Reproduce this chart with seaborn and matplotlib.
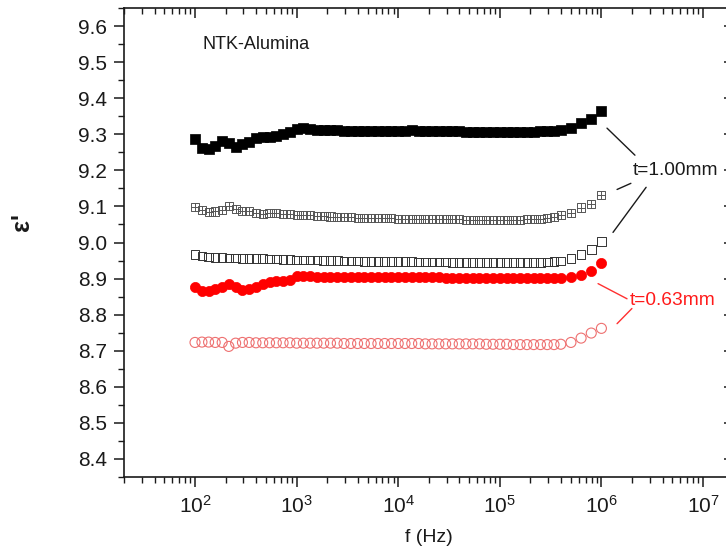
import matplotlib
matplotlib.use("Agg")
import matplotlib.pyplot as plt
from matplotlib.path import Path
from matplotlib.ticker import (LogLocator, MultipleLocator, NullFormatter,
                               LogFormatterMathtext, FormatStrFormatter)
import pandas as pd
import seaborn as sns

# Measurement frequencies (Hz)
FREQ_HZ = [
    100, 117, 136, 158, 185, 215, 251, 293, 341, 398, 464, 541, 631, 736, 858,
    1000, 1166, 1359, 1585, 1848, 2154, 2512, 2929, 3415, 3981, 4642, 5412, 6310, 7356, 8577,
    10000, 11660, 13590, 15850, 18480, 21540, 25120, 29290, 34150, 39810, 46420, 54120, 63100, 73560, 85770,
    100000, 116600, 135900, 158500, 184800, 215400, 251200, 292900, 341500, 398100,
    501200, 631000, 794300, 1000000,
]

# Relative permittivity, t = 1.00 mm samples
EPS_100_FILLED = [
    9.288, 9.262, 9.258, 9.268, 9.280, 9.275, 9.265, 9.272, 9.278, 9.290, 9.293, 9.292, 9.294, 9.300, 9.306,
    9.314, 9.316, 9.315, 9.313, 9.312, 9.311, 9.311, 9.310, 9.310, 9.310, 9.309, 9.310, 9.309, 9.309, 9.310,
    9.310, 9.310, 9.311, 9.310, 9.309, 9.309, 9.309, 9.308, 9.308, 9.308, 9.307, 9.307, 9.307, 9.306, 9.306,
    9.306, 9.306, 9.306, 9.306, 9.307, 9.307, 9.308, 9.309, 9.310, 9.312,
    9.317, 9.330, 9.341, 9.364,
]
EPS_100_CROSSED = [
    9.098, 9.090, 9.085, 9.086, 9.090, 9.102, 9.092, 9.088, 9.087, 9.083, 9.080, 9.082, 9.083, 9.080, 9.078,
    9.077, 9.076, 9.075, 9.074, 9.073, 9.072, 9.071, 9.071, 9.070, 9.069, 9.069, 9.068, 9.068, 9.067, 9.067,
    9.066, 9.066, 9.066, 9.065, 9.065, 9.065, 9.064, 9.064, 9.064, 9.064, 9.063, 9.063, 9.063, 9.063, 9.063,
    9.063, 9.063, 9.063, 9.063, 9.064, 9.065, 9.066, 9.068, 9.071, 9.075,
    9.082, 9.097, 9.107, 9.132,
]
EPS_100_OPEN = [
    8.966, 8.962, 8.960, 8.959, 8.958, 8.957, 8.957, 8.956, 8.956, 8.955, 8.955, 8.954, 8.954, 8.953, 8.953,
    8.952, 8.952, 8.951, 8.951, 8.950, 8.950, 8.950, 8.949, 8.949, 8.949, 8.948, 8.948, 8.948, 8.948, 8.947,
    8.947, 8.947, 8.947, 8.946, 8.946, 8.946, 8.946, 8.946, 8.945, 8.945, 8.945, 8.945, 8.945, 8.945, 8.945,
    8.945, 8.944, 8.944, 8.944, 8.944, 8.945, 8.945, 8.946, 8.947, 8.949,
    8.956, 8.967, 8.981, 9.002,
]

# Relative permittivity, t = 0.63 mm samples
EPS_063_FILLED = [
    8.878, 8.866, 8.866, 8.871, 8.877, 8.884, 8.876, 8.869, 8.872, 8.878, 8.886, 8.890, 8.892, 8.892, 8.896,
    8.906, 8.907, 8.906, 8.905, 8.904, 8.904, 8.903, 8.903, 8.903, 8.903, 8.903, 8.904, 8.903, 8.903, 8.903,
    8.903, 8.904, 8.904, 8.903, 8.903, 8.903, 8.903, 8.902, 8.902, 8.902, 8.902, 8.902, 8.901, 8.901, 8.901,
    8.901, 8.901, 8.901, 8.901, 8.901, 8.901, 8.901, 8.901, 8.901, 8.902,
    8.903, 8.911, 8.920, 8.943,
]
EPS_063_OPEN = [
    8.723, 8.724, 8.724, 8.723, 8.723, 8.712, 8.721, 8.723, 8.723, 8.722, 8.722, 8.722, 8.722, 8.722, 8.722,
    8.721, 8.721, 8.721, 8.721, 8.721, 8.721, 8.721, 8.720, 8.720, 8.720, 8.720, 8.720, 8.720, 8.720, 8.720,
    8.720, 8.720, 8.720, 8.720, 8.719, 8.719, 8.719, 8.719, 8.719, 8.719, 8.719, 8.719, 8.719, 8.718, 8.718,
    8.718, 8.718, 8.717, 8.717, 8.717, 8.717, 8.717, 8.717, 8.717, 8.718,
    8.723, 8.735, 8.749, 8.762,
]

X_TICKS = [1e2, 1e3, 1e4, 1e5, 1e6, 1e7]
Y_TICKS = [8.4, 8.5, 8.6, 8.7, 8.8, 8.9, 9.0, 9.1, 9.2, 9.3, 9.4, 9.5, 9.6]

INK = "#1a1a1a"

sns.set_theme(style="ticks")
plt.rcParams["font.family"] = ["Liberation Sans", "DejaVu Sans"]
plt.rcParams["mathtext.fontset"] = "custom"
plt.rcParams["mathtext.rm"] = "Liberation Sans"
plt.rcParams["mathtext.it"] = "Liberation Sans:italic"
plt.rcParams["mathtext.bf"] = "Liberation Sans:bold"
plt.rcParams["mathtext.default"] = "regular"

df = pd.DataFrame({
    "f": FREQ_HZ,
    "a100": EPS_100_FILLED,
    "b100": EPS_100_CROSSED,
    "c100": EPS_100_OPEN,
    "a063": EPS_063_FILLED,
    "b063": EPS_063_OPEN,
})

# square with an inner cross
boxplus = Path(
    [(-1, -1), (1, -1), (1, 1), (-1, 1), (-1, -1), (0, -1), (0, 1), (-1, 0), (1, 0)],
    [Path.MOVETO, Path.LINETO, Path.LINETO, Path.LINETO, Path.CLOSEPOLY,
     Path.MOVETO, Path.LINETO, Path.MOVETO, Path.LINETO],
)

fig = plt.figure(figsize=(7.26, 5.52), dpi=100)
ax = fig.add_axes([124 / 726, 75 / 552, 609.6 / 726, 469 / 552])

sns.scatterplot(data=df, x="f", y="a100", ax=ax, marker="s", s=44,
                color="black", edgecolor="black", linewidth=0.5, zorder=3)
sns.scatterplot(data=df, x="f", y="b100", ax=ax, marker=boxplus, s=34,
                facecolor="none", edgecolor="#555555", linewidth=0.7, zorder=3)
sns.scatterplot(data=df, x="f", y="c100", ax=ax, marker="s", s=38,
                facecolor="none", edgecolor="#333333", linewidth=0.7, zorder=3)
sns.scatterplot(data=df, x="f", y="a063", ax=ax, marker="o", s=54,
                color="#ff0000", edgecolor="#ff0000", linewidth=0.5, zorder=3)
sns.scatterplot(data=df, x="f", y="b063", ax=ax, marker="o", s=52,
                facecolor="none", edgecolor="#ee7070", linewidth=0.8, zorder=3)

ax.set_xscale("log")
ax.set_xlim(20, 2e7)
ax.set_ylim(8.35, 9.65)

ax.xaxis.set_major_locator(LogLocator(base=10, numticks=20))
ax.xaxis.set_minor_locator(LogLocator(base=10, subs=range(2, 10), numticks=20))
ax.xaxis.set_major_formatter(LogFormatterMathtext())
ax.xaxis.set_minor_formatter(NullFormatter())
ax.set_xticks(X_TICKS)
ax.set_yticks(Y_TICKS)
ax.yaxis.set_major_formatter(FormatStrFormatter("%.1f"))
ax.yaxis.set_minor_locator(MultipleLocator(0.05))

ax.tick_params(axis="both", which="major", direction="out", length=7, width=1.1,
               labelsize=15, labelcolor=INK, color=INK)
ax.tick_params(axis="x", which="major", pad=6)
ax.tick_params(axis="y", which="major", pad=5)
ax.tick_params(axis="both", which="minor", direction="out", length=4, width=1.0,
               color=INK)
for sp in ax.spines.values():
    sp.set_visible(True)
    sp.set_linewidth(1.2)
    sp.set_color(INK)

# inward ticks on the top and right edges
top = ax.twiny()
top.set_xscale("log")
top.set_xlim(ax.get_xlim())
top.xaxis.set_major_locator(LogLocator(base=10, numticks=20))
top.xaxis.set_minor_locator(LogLocator(base=10, subs=range(2, 10), numticks=20))
top.tick_params(axis="x", which="major", direction="in", length=7, width=1.1,
                labeltop=False, color=INK)
top.tick_params(axis="x", which="minor", direction="in", length=4, width=1.0,
                color=INK)
right = ax.twinx()
right.set_ylim(ax.get_ylim())
right.set_yticks(Y_TICKS)
right.yaxis.set_minor_locator(MultipleLocator(0.05))
right.tick_params(axis="y", which="major", direction="in", length=7, width=1.1,
                  labelright=False, color=INK)
right.tick_params(axis="y", which="minor", direction="in", length=4, width=1.0,
                  color=INK)
for a in (top, right):
    for sp in a.spines.values():
        sp.set_visible(False)

ax.set_xlabel("f (Hz)", fontsize=14, color=INK, labelpad=9)
ax.set_ylabel("")
fig.text(22 / 726, 1 - 222 / 552, "ε'", fontsize=18, fontweight="bold",
         color=INK, rotation=90, ha="center", va="center")

ax.text(118, 9.548, "NTK-Alumina", fontsize=13, color=INK,
        ha="left", va="center")

# thickness labels with leader lines
ax.text(10 ** 6.31, 9.200, "t=1.00mm", fontsize=13.8, color=INK,
        ha="left", va="center")
for (x0, y0), (x1, y1) in [((10 ** 6.055, 9.317), (10 ** 6.33, 9.242)),
                           ((10 ** 6.154, 9.147), (10 ** 6.29, 9.164)),
                           ((10 ** 6.44, 9.153), (10 ** 6.114, 9.028))]:
    ax.plot([x0, x1], [y0, y1], color=INK, lw=1.0)

ax.text(10 ** 6.28, 8.839, "t=0.63mm", fontsize=13.8, color="#ff1a1a",
        ha="left", va="center")
for (x0, y0), (x1, y1) in [((10 ** 5.967, 8.886), (10 ** 6.252, 8.844)),
                           ((10 ** 6.154, 8.775), (10 ** 6.30, 8.817))]:
    ax.plot([x0, x1], [y0, y1], color="#ff3030", lw=1.0)

fig.savefig("out.png", dpi=100)
